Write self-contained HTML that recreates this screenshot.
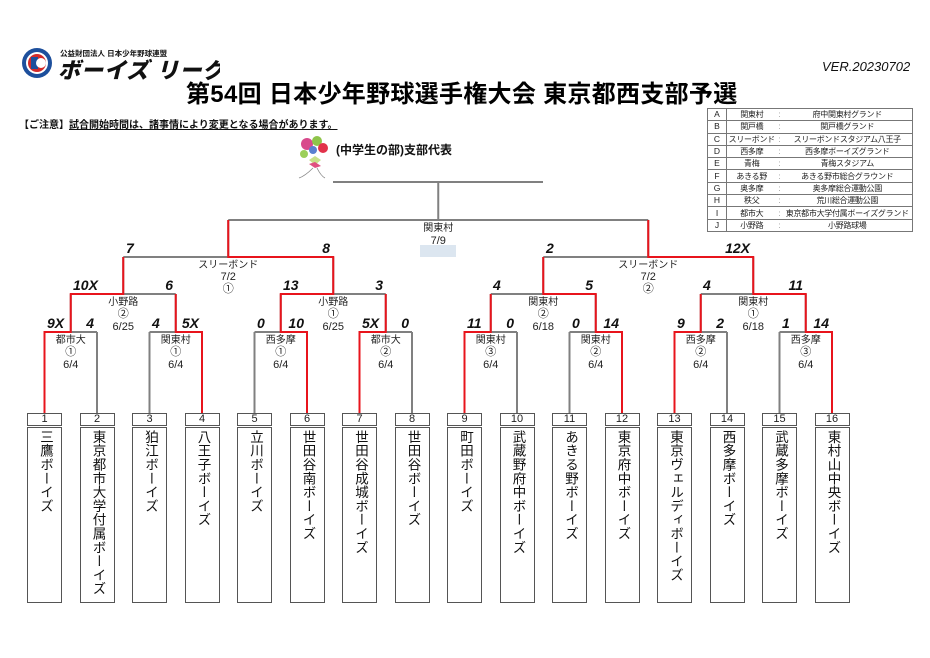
<!DOCTYPE html>
<html><head><meta charset="utf-8">
<style>
html,body{margin:0;padding:0;background:#fff;}
body{width:930px;height:658px;position:relative;overflow:hidden;font-family:"Liberation Sans","Noto Sans CJK JP",sans-serif;}
.abs{position:absolute;}
.nm{position:absolute;top:427px;width:35px;height:176px;box-sizing:border-box;border:1.5px solid #555;writing-mode:vertical-rl;font-size:13.5px;line-height:32px;padding-top:2px;color:#111;letter-spacing:0.3px;white-space:nowrap;overflow:hidden;}
.no{position:absolute;top:413px;width:35px;height:13px;box-sizing:border-box;border:1.5px solid #555;font-size:11px;line-height:11px;text-align:center;color:#222;}
table{border-collapse:collapse;font-size:8.5px;color:#222;table-layout:fixed;}
td{border:1px solid #777;height:11.3px;padding:0;line-height:11px;text-align:center;white-space:nowrap;overflow:hidden;}
td.c{border-left:none;border-right:none;color:#999;}
td.s{border-right:none;font-size:8px;letter-spacing:-0.3px;}
td.l{border-left:none;font-size:8px;letter-spacing:-0.3px;}
</style></head><body>

<svg class="abs" style="left:20px;top:46px" width="200" height="36">
<circle cx="17" cy="17" r="15" fill="#1d4f9c"/>
<circle cx="17" cy="17" r="11" fill="#fff"/>
<circle cx="17" cy="17" r="9" fill="#d32a2a"/>
<rect x="11" y="11" width="7" height="12" fill="#1d4f9c"/>
<circle cx="21" cy="17" r="5" fill="#fff"/>
<text x="40" y="10" font-size="7.5" font-weight="bold" fill="#111" font-family="Liberation Sans, Noto Sans CJK JP, sans-serif">公益財団法人 日本少年野球連盟</text>
<text x="38" y="32" font-size="22" font-weight="900" font-style="italic" fill="#111" font-family="Liberation Sans, Noto Sans CJK JP, sans-serif" letter-spacing="1">ボーイズ リーグ</text>
</svg>

<div class="abs" style="left:822px;top:59px;font-size:13px;font-style:italic;color:#111;">VER.20230702</div>
<div class="abs" style="left:186px;top:74px;font-size:24px;font-weight:bold;color:#000;letter-spacing:0.3px;white-space:nowrap;">第54回 日本少年野球選手権大会 東京都西支部予選</div>
<div class="abs" style="left:19px;top:116px;font-size:10px;font-weight:bold;color:#111;white-space:nowrap;">【ご注意】<span style="text-decoration:underline">試合開始時間は、諸事情により変更となる場合があります。</span></div>

<svg class="abs" style="left:295px;top:132px" width="40" height="50">
<circle cx="12" cy="12" r="6" fill="#d84a8c"/>
<circle cx="22" cy="9" r="5" fill="#8fc44a"/>
<circle cx="28" cy="16" r="5" fill="#e2324a"/>
<circle cx="18" cy="18" r="4" fill="#5a7fd0"/>
<circle cx="9" cy="22" r="4" fill="#9ccf5a"/>
<path d="M14 28 L20 24 L26 28 L20 33Z" fill="#c8e08a"/>
<path d="M14 32 L20 30 L26 34 L20 36Z" fill="#e05080"/>
<path d="M18 36 Q10 44 4 46 M22 36 Q26 44 30 46" stroke="#888" fill="none" stroke-width="0.8"/>
</svg>
<div class="abs" style="left:336px;top:141px;font-size:12px;font-weight:bold;color:#111;white-space:nowrap;">(中学生の部)支部代表</div>

<table class="abs" style="left:707px;top:108px;width:205px;">
<colgroup><col style="width:19px"><col style="width:50px"><col style="width:6px"><col style="width:130px"></colgroup>
<tr><td>A</td><td class="s">関東村</td><td class="c">:</td><td class="l">府中関東村グランド</td></tr>
<tr><td>B</td><td class="s">関戸橋</td><td class="c">:</td><td class="l">関戸橋グランド</td></tr>
<tr><td>C</td><td class="s">スリーボンド</td><td class="c">:</td><td class="l">スリーボンドスタジアム八王子</td></tr>
<tr><td>D</td><td class="s">西多摩</td><td class="c">:</td><td class="l">西多摩ボーイズグランド</td></tr>
<tr><td>E</td><td class="s">青梅</td><td class="c">:</td><td class="l">青梅スタジアム</td></tr>
<tr><td>F</td><td class="s">あきる野</td><td class="c">:</td><td class="l">あきる野市総合グラウンド</td></tr>
<tr><td>G</td><td class="s">奥多摩</td><td class="c">:</td><td class="l">奥多摩総合運動公園</td></tr>
<tr><td>H</td><td class="s">秩父</td><td class="c">:</td><td class="l">荒川総合運動公園</td></tr>
<tr><td>I</td><td class="s">都市大</td><td class="c">:</td><td class="l">東京都市大学付属ボーイズグランド</td></tr>
<tr><td>J</td><td class="s">小野路</td><td class="c">:</td><td class="l">小野路球場</td></tr>
</table>

<svg class="abs" style="left:0;top:0" width="930" height="658" font-family="Liberation Sans, Noto Sans CJK JP, sans-serif">
<rect x="420" y="245" width="36" height="12" fill="#dce6f0"/>
<g stroke="#808080" stroke-width="2" fill="none">
<path d="M44.5 413V332M97 413V332M149.5 413V332M202 413V332M254.5 413V332M307 413V332M359.5 413V332M412 413V332M464.5 413V332M517 413V332M569.5 413V332M622 413V332M674.5 413V332M727 413V332M779.5 413V332M832 413V332"/>
<path d="M44.5 332H97M149.5 332H202M254.5 332H307M359.5 332H412M464.5 332H517M569.5 332H622M674.5 332H727M779.5 332H832"/>
<path d="M70.75 332V294M175.75 332V294M280.75 332V294M385.75 332V294M490.75 332V294M595.75 332V294M700.75 332V294M805.75 332V294"/>
<path d="M70.75 294H175.75M280.75 294H385.75M490.75 294H595.75M700.75 294H805.75"/>
<path d="M123.25 294V257M333.25 294V257M543.25 294V257M753.25 294V257"/>
<path d="M123.25 257H333.25M543.25 257H753.25"/>
<path d="M228.25 257V220M648.25 257V220M228.25 220H648.25M438.25 220V182M333 182H543"/>
</g>
<g stroke="#e8141c" stroke-width="2" fill="none">
<path d="M44.5 413V332H70.75V294H123.25V257"/>
<path d="M202 413V332H175.75V294"/>
<path d="M307 413V332H280.75V294H333.25V257H228.25V220"/>
<path d="M359.5 413V332H385.75V294"/>
<path d="M464.5 413V332H490.75V294"/>
<path d="M622 413V332H595.75V294H543.25V257"/>
<path d="M674.5 413V332H700.75V294"/>
<path d="M832 413V332H805.75V294H753.25V257H648.25V220"/>
</g>
<g font-size="14" font-weight="bold" font-style="italic" fill="#111">
<text x="47" y="328">9X</text><text x="94" y="328" text-anchor="end">4</text>
<text x="152" y="328">4</text><text x="199" y="328" text-anchor="end">5X</text>
<text x="257" y="328">0</text><text x="304" y="328" text-anchor="end">10</text>
<text x="362" y="328">5X</text><text x="409" y="328" text-anchor="end">0</text>
<text x="467" y="328">11</text><text x="514" y="328" text-anchor="end">0</text>
<text x="572" y="328">0</text><text x="619" y="328" text-anchor="end">14</text>
<text x="677" y="328">9</text><text x="724" y="328" text-anchor="end">2</text>
<text x="782" y="328">1</text><text x="829" y="328" text-anchor="end">14</text>
<text x="73" y="290">10X</text><text x="173" y="290" text-anchor="end">6</text>
<text x="283" y="290">13</text><text x="383" y="290" text-anchor="end">3</text>
<text x="493" y="290">4</text><text x="593" y="290" text-anchor="end">5</text>
<text x="703" y="290">4</text><text x="803" y="290" text-anchor="end">11</text>
<text x="126" y="253">7</text><text x="330" y="253" text-anchor="end">8</text>
<text x="546" y="253">2</text><text x="750" y="253" text-anchor="end">12X</text>
</g>
<g font-size="10" fill="#222" text-anchor="middle">
<text x="70.75" y="343">都市大</text><text x="175.75" y="343">関東村</text><text x="280.75" y="343">西多摩</text><text x="385.75" y="343">都市大</text>
<text x="490.75" y="343">関東村</text><text x="595.75" y="343">関東村</text><text x="700.75" y="343">西多摩</text><text x="805.75" y="343">西多摩</text>
<text x="123.25" y="305">小野路</text><text x="333.25" y="305">小野路</text><text x="543.25" y="305">関東村</text><text x="753.25" y="305">関東村</text>
<text x="228.25" y="268">スリーボンド</text><text x="648.25" y="268">スリーボンド</text>
<text x="438.25" y="231">関東村</text>
</g>
<g font-size="11" fill="#222" text-anchor="middle">
<text x="70.75" y="355">①</text><text x="175.75" y="355">①</text><text x="280.75" y="355">①</text><text x="385.75" y="355">②</text>
<text x="490.75" y="355">③</text><text x="595.75" y="355">②</text><text x="700.75" y="355">②</text><text x="805.75" y="355">③</text>
<text x="70.75" y="368">6/4</text><text x="175.75" y="368">6/4</text><text x="280.75" y="368">6/4</text><text x="385.75" y="368">6/4</text>
<text x="490.75" y="368">6/4</text><text x="595.75" y="368">6/4</text><text x="700.75" y="368">6/4</text><text x="805.75" y="368">6/4</text>
<text x="123.25" y="317">②</text><text x="333.25" y="317">①</text><text x="543.25" y="317">②</text><text x="753.25" y="317">①</text>
<text x="123.25" y="330">6/25</text><text x="333.25" y="330">6/25</text><text x="543.25" y="330">6/18</text><text x="753.25" y="330">6/18</text>
<text x="228.25" y="280">7/2</text><text x="648.25" y="280">7/2</text>
<text x="228.25" y="292">①</text><text x="648.25" y="292">②</text>
<text x="438.25" y="244">7/9</text>
</g>
</svg>

<div class="no" style="left:27px">1</div><div class="no" style="left:79.5px">2</div><div class="no" style="left:132px">3</div><div class="no" style="left:184.5px">4</div>
<div class="no" style="left:237px">5</div><div class="no" style="left:289.5px">6</div><div class="no" style="left:342px">7</div><div class="no" style="left:394.5px">8</div>
<div class="no" style="left:447px">9</div><div class="no" style="left:499.5px">10</div><div class="no" style="left:552px">11</div><div class="no" style="left:604.5px">12</div>
<div class="no" style="left:657px">13</div><div class="no" style="left:709.5px">14</div><div class="no" style="left:762px">15</div><div class="no" style="left:814.5px">16</div>

<div class="nm" style="left:27px">三鷹ボーイズ</div>
<div class="nm" style="left:79.5px">東京都市大学付属ボーイズ</div>
<div class="nm" style="left:132px">狛江ボーイズ</div>
<div class="nm" style="left:184.5px">八王子ボーイズ</div>
<div class="nm" style="left:237px">立川ボーイズ</div>
<div class="nm" style="left:289.5px">世田谷南ボーイズ</div>
<div class="nm" style="left:342px">世田谷成城ボーイズ</div>
<div class="nm" style="left:394.5px">世田谷ボーイズ</div>
<div class="nm" style="left:447px">町田ボーイズ</div>
<div class="nm" style="left:499.5px">武蔵野府中ボーイズ</div>
<div class="nm" style="left:552px">あきる野ボーイズ</div>
<div class="nm" style="left:604.5px">東京府中ボーイズ</div>
<div class="nm" style="left:657px">東京ヴェルディボーイズ</div>
<div class="nm" style="left:709.5px">西多摩ボーイズ</div>
<div class="nm" style="left:762px">武蔵多摩ボーイズ</div>
<div class="nm" style="left:814.5px">東村山中央ボーイズ</div>
</body></html>
